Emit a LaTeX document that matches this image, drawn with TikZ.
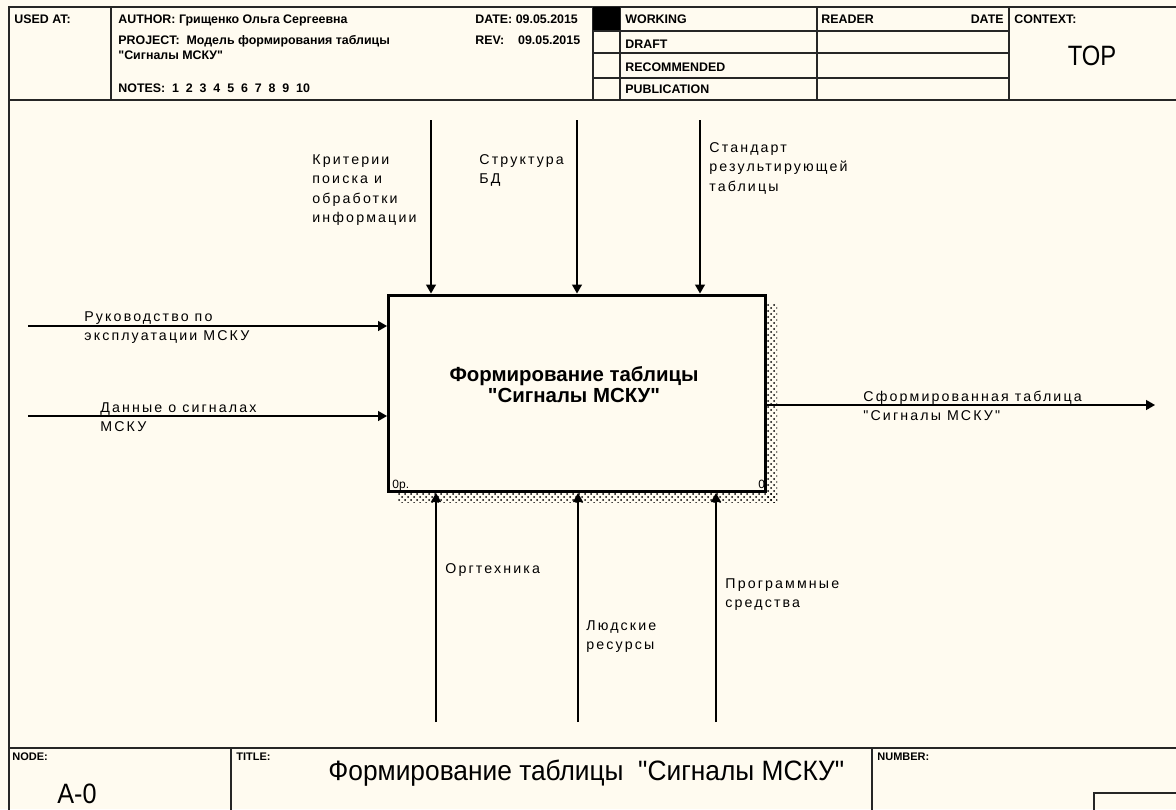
\documentclass[tikz,border=0pt]{standalone}
\usepackage{fontspec}
\usepackage{graphicx}
\setmainfont{Liberation Sans}[Ligatures=TeXOff]
\newfontfamily\lblfont[LetterSpace=15]{Liberation Sans}
\usetikzlibrary{arrows.meta,patterns}
\definecolor{paper}{HTML}{FFFBF0}
\definecolor{ink}{HTML}{262626}
\newcommand\mlines[1]{\vtop{\halign{##\hfil\cr#1\crcr}}}
\begin{document}
\begin{tikzpicture}[x=0.5pt,y=-0.5pt,
  frame/.style={draw=ink,line width=1pt},
  lbl/.style={font=\lblfont\fontsize{7.1}{9.8}\selectfont,anchor=base west,inner sep=0pt},
  hdr/.style={font=\bfseries\fontsize{6.2}{8}\selectfont,anchor=base west,inner sep=0pt},
  big/.style={font=\fontsize{14}{16}\selectfont,anchor=base west,inner sep=0pt},
  small/.style={font=\fontsize{5.5}{7}\selectfont,anchor=base west,inner sep=0pt},
  arr/.style={draw=black,line width=0.65pt,-{Triangle[length=4.5pt,width=5pt]}},
  ]
% background and bounding box
\fill[paper] (0,0) rectangle (1176,809);
\useasboundingbox (0,0) rectangle (1176,809);

% ---------- frame ----------
\draw[frame] (9,815) -- (9,7) -- (1185,7);
\draw[frame] (9,100) -- (1185,100);
\draw[frame] (9,748) -- (1185,748);
% header verticals
\draw[frame] (111,7) -- (111,100);
\draw[frame] (593,7) -- (593,100);
\draw[frame] (620,7) -- (620,100);
\draw[frame] (817,7) -- (817,100);
\draw[frame] (1009,7) -- (1009,100);
\fill[black] (593,7) rectangle (620,31);
\foreach \yy in {31,53,78}{\draw[frame] (593,\yy) -- (1009,\yy);}
% footer verticals
\draw[frame] (231,748) -- (231,815);
\draw[frame] (872,748) -- (872,815);
\draw[frame] (1094,815) -- (1094,793) -- (1185,793);

% ---------- header texts ----------
\node[hdr] (usedat) at (14,23) {USED AT:};
\node[hdr] (author) at (118,23) {AUTHOR: Грищенко Ольга Сергеевна};
\node[hdr] (project) at (118,44) {PROJECT:\ \ Модель формирования таблицы};
\node[hdr] (project2) at (118,59) {"Сигналы МСКУ"};
\node[hdr] (notes) at (118,92) {NOTES:\ \ 1\ \ 2\ \ 3\ \ 4\ \ 5\ \ 6\ \ 7\ \ 8\ \ 9\ \ 10};
\node[hdr] (date) at (475,23) {DATE: 09.05.2015};
\node[hdr] (rev) at (475,44) {REV:\ \ \ \ 09.05.2015};
\node[hdr] (working) at (625,23) {WORKING};
\node[hdr] (draft) at (625,48) {DRAFT};
\node[hdr] (recommended) at (625,71) {RECOMMENDED};
\node[hdr] (publication) at (625,93) {PUBLICATION};
\node[hdr] (reader) at (821,23) {READER};
\node[hdr,anchor=base east] (rdate) at (1004,23) {DATE};
\node[hdr] (context) at (1014,23) {CONTEXT:};
\node[big,anchor=base] (top) at (1092,65) {\scalebox{0.85}[1]{TOP}};

% ---------- footer texts ----------
\node[small,font=\bfseries\fontsize{5.5}{7}\selectfont] (nodelbl) at (12,760) {NODE:};
\node[small,font=\bfseries\fontsize{5.5}{7}\selectfont] (titlelbl) at (236,760) {TITLE:};
\node[small,font=\bfseries\fontsize{5.5}{7}\selectfont] (numberlbl) at (877,760) {NUMBER:};
\node[big] (nodeid) at (57,803) {\scalebox{0.9}[1]{A-0}};
\node[big] (title) at (328,780) {\scalebox{0.94}[1]{Формирование таблицы\ \ "Сигналы МСКУ"}};

% ---------- activity box ----------
\fill[pattern=crosshatch dots,pattern color=black] (767,303) rectangle (777,502);
\fill[pattern=crosshatch dots,pattern color=black] (398,493) rectangle (777,502);
\node[draw=black,fill=paper,line width=1.5pt,minimum width=188.25pt,minimum height=98.25pt,inner sep=0pt] (box) at (576.75,393.25) {};
\node[font=\bfseries\fontsize{10.2}{10.5}\selectfont,align=center,inner sep=0pt] (boxtitle) at (574,385) {Формирование таблицы\\"Сигналы МСКУ"};
\node[small,font=\fontsize{6}{7}\selectfont] (boxcost) at (392,488) {0р.};
\node[small,font=\fontsize{6}{7}\selectfont] (boxnum) at (758,488) {0};

% ---------- controls ----------
\coordinate (c1) at (431,120);
\coordinate (c2) at (577,120);
\coordinate (c3) at (700,120);
\draw[arr] (c1) -- (c1 |- box.north);
\draw[arr] (c2) -- (c2 |- box.north);
\draw[arr] (c3) -- (c3 |- box.north);
\node[lbl] (lc1) at (312,164) {\mlines{Критерии\cr поиска и\cr обработки\cr информации}};
\node[lbl] (lc2) at (479,164) {\mlines{Структура\cr БД}};
\node[lbl] (lc3) at (709,152) {\mlines{Стандарт\cr результирующей\cr таблицы}};

% ---------- inputs ----------
\coordinate (i1) at (28,326);
\coordinate (i2) at (28,416);
\draw[arr] (i1) -- (i1 -| box.west);
\draw[arr] (i2) -- (i2 -| box.west);
\node[lbl] (li1) at (84,321) {\mlines{Руководство по\cr эксплуатации МСКУ}};
\node[lbl] (li2) at (100,412) {\mlines{Данные о сигналах\cr МСКУ}};

% ---------- output ----------
\coordinate (o1) at (1155,405);
\draw[arr] (o1 -| box.east) -- (o1);
\node[lbl] (lo1) at (863,401) {\mlines{Сформированная таблица\cr "Сигналы МСКУ"}};

% ---------- mechanisms ----------
\coordinate (m1) at (436,722);
\coordinate (m2) at (578,722);
\coordinate (m3) at (716,722);
\draw[arr] (m1) -- (m1 |- box.south);
\draw[arr] (m2) -- (m2 |- box.south);
\draw[arr] (m3) -- (m3 |- box.south);
\node[lbl] (lm1) at (445,573) {Оргтехника};
\node[lbl] (lm2) at (586,630) {\mlines{Людские\cr ресурсы}};
\node[lbl] (lm3) at (725,588) {\mlines{Программные\cr средства}};
\end{tikzpicture}
\end{document}
